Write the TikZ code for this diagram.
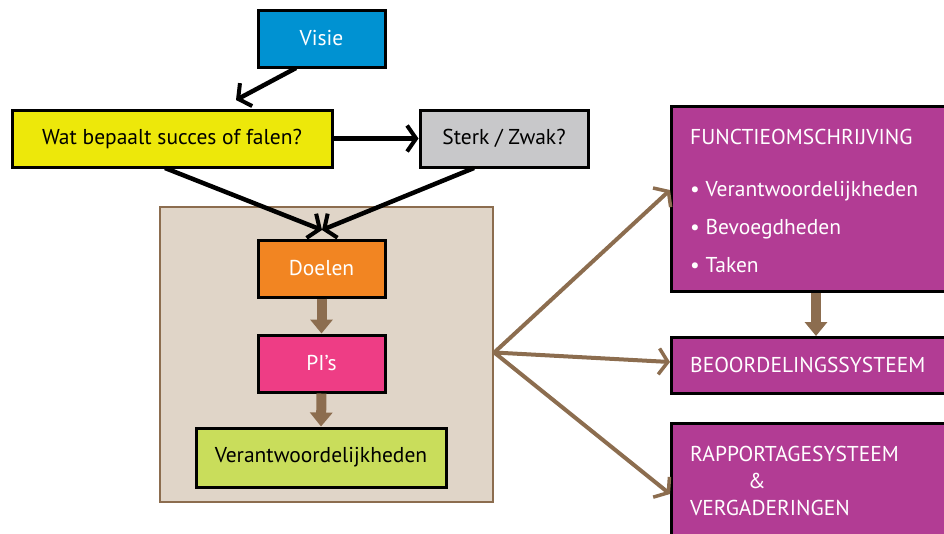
\documentclass[tikz,border=0pt]{standalone}
\usepackage{fontspec}
\setmainfont{PT Sans}
\usetikzlibrary{arrows.meta}
\definecolor{visieblauw}{HTML}{0092D2}
\definecolor{geel}{HTML}{EDE80A}
\definecolor{grijs}{HTML}{C8C8CA}
\definecolor{beige}{HTML}{E0D5C8}
\definecolor{bruin}{HTML}{8C6D4F}
\definecolor{oranje}{HTML}{F28522}
\definecolor{roze}{HTML}{EE3D85}
\definecolor{groen}{HTML}{C9DD5B}
\definecolor{paars}{HTML}{B23C94}
\tikzset{
  blok/.style={draw=black,line width=3pt,inner sep=0pt,font=\fontsize{21.5}{24}\selectfont},
  paarsblok/.style={blok,fill=paars,anchor=north west},
  paarstekst/.style={anchor=base west,text=white,inner sep=0pt,font=\fontsize{21.5}{24}\selectfont},
  zwartpijl/.style={line width=4.5pt,-{Straight Barb[length=9pt,width=26pt,line width=4pt]}},
  bruinpijl/.style={bruin,line width=4pt,-{Straight Barb[length=9pt,width=26pt,line width=3.5pt]}},
  dikpijl/.style={bruin,line width=10pt,-{Triangle[length=14pt,width=22pt]}}
}
\begin{document}
\begin{tikzpicture}[x=1pt,y=-1pt]
\useasboundingbox (0,0) rectangle (944,533);

\node[draw=bruin,line width=2.5pt,fill=beige,minimum width=333pt,minimum height=295pt] (kader) at (326.5,354.5) {};

\node[blok,fill=visieblauw,text=white,minimum width=127pt,minimum height=57pt] (visie) at (321.5,38.5) {Visie};
\node[blok,fill=geel,minimum width=320pt,minimum height=57pt] (wat) at (172,138.5) {Wat bepaalt succes of falen?};
\node[blok,fill=grijs,minimum width=168pt,minimum height=57pt] (sterk) at (504,138.5) {Sterk / Zwak?};

\node[blok,fill=oranje,text=white,minimum width=127pt,minimum height=57pt] (doelen) at (321.5,268.5) {Doelen};
\node[blok,fill=roze,text=white,minimum width=127pt,minimum height=57pt] (pis) at (321.5,363.5) {PI’s};
\node[blok,fill=groen,minimum width=250pt,minimum height=59pt] (verant) at (321,457.5) {Verantwoordelijkheden};

\node[paarsblok,minimum width=285pt,minimum height=185pt] (functie) at (670,105) {};
\node[paarstekst] (functietekst) at (690,144) {FUNCTIEOMSCHRIJVING};
\node[paarstekst] (taak1) at (690,196) {\textbullet\ Verantwoordelijkheden};
\node[paarstekst] (taak2) at (690,234) {\textbullet\ Bevoegdheden};
\node[paarstekst] (taak3) at (690,272) {\textbullet\ Taken};
\node[paarsblok,minimum width=285pt,minimum height=56pt] (beoordeling) at (670,336) {};
\node[paarstekst] (beoordelingtekst) at (690,372) {BEOORDELINGSSYSTEEM};
\node[paarsblok,minimum width=285pt,minimum height=130pt] (rapportage) at (670,422) {};
\node[paarstekst] (rapportage1) at (690,461) {RAPPORTAGESYSTEEM};
\node[paarstekst] (rapportage2) at (748,488) {\&};
\node[paarstekst] (rapportage3) at (690,515) {VERGADERINGEN};

\coordinate (visieuit) at (296,68);
\coordinate (watin) at (236,100);
\coordinate (watuit) at (165,168);
\coordinate (sterkuit) at (474,168);
\coordinate (doelenin) at (322,230);

\draw[zwartpijl] (visieuit) -- (watin);
\draw[zwartpijl] (wat.east) -- (sterk.west);
\draw[zwartpijl] (watuit) -- (doelenin);
\draw[zwartpijl] (sterkuit) -- (doelenin);

\draw[dikpijl] (doelen.south) -- (pis.north);
\draw[dikpijl] (pis.south) -- (verant.north);
\draw[dikpijl] ([xshift=2pt]functie.south) -- ([xshift=2pt]beoordeling.north);

\draw[bruinpijl] ([yshift=2pt]kader.east) -- (functie.west |- 0,190);
\draw[bruinpijl] ([yshift=2pt]kader.east) -- (beoordeling.west |- 0,362);
\draw[bruinpijl] ([yshift=2pt]kader.east) -- (rapportage.west |- 0,494);
\end{tikzpicture}
\end{document}
